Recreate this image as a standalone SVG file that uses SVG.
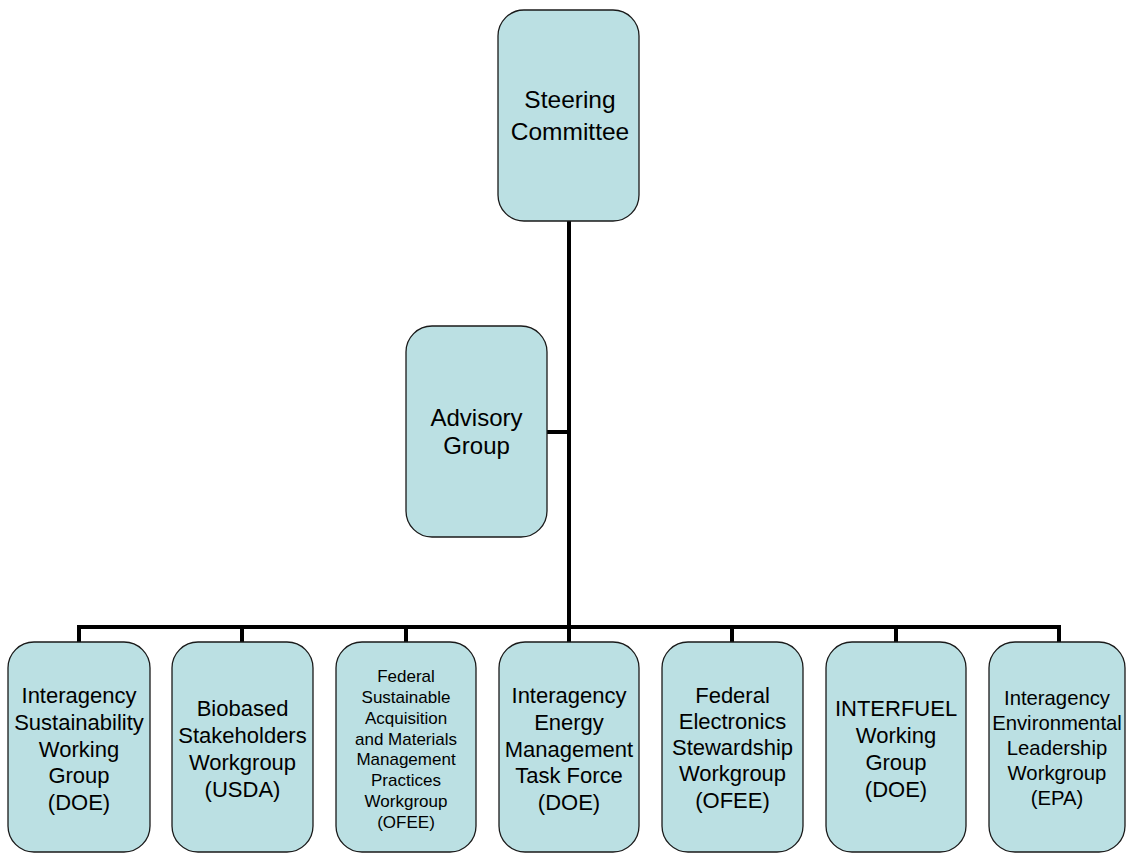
<svg xmlns="http://www.w3.org/2000/svg" width="1126" height="853" viewBox="0 0 1126 853">
<style>
.box{fill:#BBE0E3;stroke:#1a1a1a;stroke-width:1.3}
.t{font-family:"Liberation Sans",Arial,sans-serif;fill:#000;text-anchor:middle}
.c{stroke:#000;stroke-width:4;fill:none}
</style>
<rect width="1126" height="853" fill="#fff"/>
<g id="connectors">
<line class="c" x1="569" y1="221" x2="569" y2="629"/>
<line class="c" x1="547" y1="432" x2="571" y2="432"/>
<line class="c" x1="77" y1="627" x2="1061" y2="627"/>
<line class="c" x1="79" y1="625" x2="79" y2="642"/>
<line class="c" x1="242" y1="625" x2="242" y2="642"/>
<line class="c" x1="406" y1="625" x2="406" y2="642"/>
<line class="c" x1="569" y1="625" x2="569" y2="642"/>
<line class="c" x1="732" y1="625" x2="732" y2="642"/>
<line class="c" x1="896" y1="625" x2="896" y2="642"/>
<line class="c" x1="1059" y1="625" x2="1059" y2="642"/>
</g>
<g id="steering">
<rect class="box" x="498" y="10" width="141" height="211" rx="26"/>
<text class="t" font-size="24.5"><tspan x="570" y="108">Steering</tspan><tspan x="570" y="140">Committee</tspan></text>
</g>
<g id="advisory">
<rect class="box" x="406" y="326" width="141" height="211" rx="26"/>
<text class="t" font-size="24"><tspan x="476.5" y="426">Advisory</tspan><tspan x="476.5" y="454">Group</tspan></text>
</g>
<g id="iswg">
<rect class="box" x="8" y="642" width="142" height="210" rx="26"/>
<text class="t" font-size="22"><tspan x="79" y="703">Interagency</tspan><tspan x="79" y="730">Sustainability</tspan><tspan x="79" y="757">Working</tspan><tspan x="79" y="783">Group</tspan><tspan x="79" y="810">(DOE)</tspan></text>
</g>
<g id="biobased">
<rect class="box" x="172" y="642" width="141" height="210" rx="26"/>
<text class="t" font-size="22"><tspan x="242.5" y="716">Biobased</tspan><tspan x="242.5" y="743">Stakeholders</tspan><tspan x="242.5" y="770">Workgroup</tspan><tspan x="242.5" y="797">(USDA)</tspan></text>
</g>
<g id="fsamm">
<rect class="box" x="336" y="642" width="140" height="210" rx="26"/>
<text class="t" font-size="17"><tspan x="406" y="682">Federal</tspan><tspan x="406" y="703">Sustainable</tspan><tspan x="406" y="724">Acquisition</tspan><tspan x="406" y="745">and Materials</tspan><tspan x="406" y="765">Management</tspan><tspan x="406" y="786">Practices</tspan><tspan x="406" y="807">Workgroup</tspan><tspan x="406" y="828">(OFEE)</tspan></text>
</g>
<g id="iemtf">
<rect class="box" x="499" y="642" width="140" height="210" rx="26"/>
<text class="t" font-size="22"><tspan x="569" y="703">Interagency</tspan><tspan x="569" y="730">Energy</tspan><tspan x="569" y="757">Management</tspan><tspan x="569" y="783">Task Force</tspan><tspan x="569" y="810">(DOE)</tspan></text>
</g>
<g id="fesw">
<rect class="box" x="662" y="642" width="141" height="210" rx="26"/>
<text class="t" font-size="22"><tspan x="732.5" y="703">Federal</tspan><tspan x="732.5" y="729">Electronics</tspan><tspan x="732.5" y="755">Stewardship</tspan><tspan x="732.5" y="781">Workgroup</tspan><tspan x="732.5" y="808">(OFEE)</tspan></text>
</g>
<g id="interfuel">
<rect class="box" x="826" y="642" width="140" height="210" rx="26"/>
<text class="t" font-size="22"><tspan x="896" y="716">INTERFUEL</tspan><tspan x="896" y="743">Working</tspan><tspan x="896" y="770">Group</tspan><tspan x="896" y="797">(DOE)</tspan></text>
</g>
<g id="ielw">
<rect class="box" x="989" y="642" width="136" height="210" rx="26"/>
<text class="t" font-size="20.3"><tspan x="1057" y="705">Interagency</tspan><tspan x="1057" y="730">Environmental</tspan><tspan x="1057" y="755">Leadership</tspan><tspan x="1057" y="780">Workgroup</tspan><tspan x="1057" y="805">(EPA)</tspan></text>
</g>
</svg>
